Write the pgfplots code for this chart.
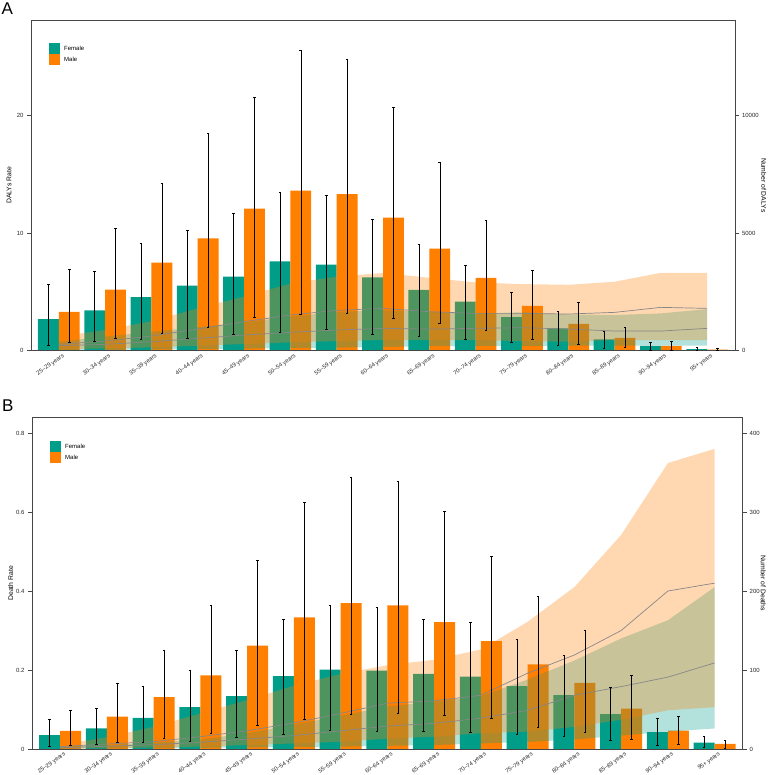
\documentclass[border=0pt]{standalone}
\usepackage{fontspec}
\setmainfont{Liberation Sans}
\usepackage{pgfplots}
\pgfplotsset{compat=1.18}
\usepackage{pgfplotstable}

\definecolor{femc}{RGB}{0,158,137}
\definecolor{malc}{RGB}{255,127,0}
\definecolor{midline}{RGB}{135,135,135}
\definecolor{axisc}{RGB}{70,70,70}

% Panel A: DALYs rate per age group (value, lower, upper)
\pgfplotstableread{
i f flo fhi m mlo mhi
0 2.69 0.48 5.64 3.29 0.68 6.92
1 3.43 0.80 6.77 5.18 1.10 10.37
2 4.56 0.99 9.12 7.48 1.45 14.27
3 5.52 1.10 10.20 9.55 2.00 18.47
4 6.29 1.36 11.70 12.07 2.84 21.58
5 7.60 1.59 13.48 13.60 3.09 25.50
6 7.31 1.82 13.20 13.30 3.18 24.80
7 6.23 1.44 11.16 11.30 2.80 20.70
8 5.16 1.22 9.04 8.67 2.33 16.00
9 4.16 0.97 7.28 6.18 1.73 11.08
10 2.86 0.68 4.96 3.80 0.94 6.88
11 1.90 0.46 3.35 2.27 0.51 4.11
12 0.97 0.20 1.67 1.08 0.26 1.99
13 0.40 0.08 0.68 0.40 0.08 0.77
14 0.14 0.03 0.26 0.09 0.02 0.17
}\rateA

% Panel A: number of DALYs, estimates
\pgfplotstableread{
i fmid mmid
0 212 269
1 269 410
2 382 623
3 524 920
4 665 1232
5 779 1515
6 878 1713
7 949 1798
8 920 1657
9 949 1586
10 977 1586
11 920 1558
12 835 1628
13 835 1841
14 949 1798
}\lineA

% Panel A: uncertainty bands as outlines (lower edge forward, upper edge back)
\pgfplotstableread{
x y
0 20
1 35
2 50
3 70
4 90
5 110
6 130
7 160
8 190
9 200
10 210
11 210
12 220
13 220
14 215
14 1770
13 1586
12 1515
11 1545
10 1630
9 1586
8 1650
7 1720
6 1650
5 1450
4 1200
3 1000
2 800
1 600
0 380
}\bandAf

\pgfplotstableread{
x y
0 57
1 99
2 142
3 212
4 283
5 354
6 410
7 453
8 453
9 453
10 410
11 382
12 453
13 453
14 453
14 3310
13 3310
12 2930
11 2800
10 2830
9 2900
8 3100
7 3300
6 3150
5 2850
4 2300
3 1800
2 1250
1 880
0 600
}\bandAm

% Panel B: death rate per age group (value, lower, upper)
\pgfplotstableread{
i f flo fhi m mlo mhi
0 0.0354 0.0068 0.0760 0.0456 0.0093 0.0979
1 0.0523 0.0127 0.1038 0.0819 0.0169 0.1654
2 0.0785 0.0169 0.1595 0.1316 0.0270 0.2498
3 0.1063 0.0203 0.1983 0.1865 0.0397 0.3646
4 0.1340 0.0295 0.2490 0.2616 0.0608 0.4767
5 0.1848 0.0380 0.3290 0.3334 0.0760 0.6253
6 0.2008 0.0481 0.3646 0.3696 0.0886 0.6886
7 0.1983 0.0456 0.3600 0.3637 0.0903 0.6790
8 0.1899 0.0439 0.3283 0.3215 0.0852 0.6010
9 0.1831 0.0422 0.3198 0.2734 0.0776 0.4890
10 0.1595 0.0380 0.2776 0.2143 0.0549 0.3865
11 0.1367 0.0329 0.2363 0.1671 0.0413 0.3004
12 0.0886 0.0211 0.1561 0.1021 0.0245 0.1873
13 0.0430 0.0101 0.0776 0.0464 0.0118 0.0835
14 0.0160 0.0034 0.0312 0.0127 0.0017 0.0211
}\rateB

% Panel B: number of deaths, estimates
\pgfplotstableread{
i fmid mmid
0 1.5 3
1 3.5 6.3
2 5.5 9.3
3 8.5 15.6
4 12.5 23
5 17 33
6 23 45
7 29 58
8 32.5 61
9 39 68
10 49 96
11 68 119
12 79 150
13 91 200
14 109 210
}\lineB

% Panel B: uncertainty bands as outlines
\pgfplotstableread{
x y
0 0.3
1 0.6
2 1
3 1.5
4 2
5 2.5
6 3
7 4
8 5
9 7
10 9
11 12
12 17
13 22
14 26
14 205
13 163
12 140
11 112
10 88
9 67
8 60
7 54
6 42
5 31
4 20
3 12
2 8
1 5
0 3
}\bandBf

\pgfplotstableread{
x y
0 0.4
1 1
2 2
3 3
4 5
5 7
6 9.3
7 13
8 15.6
9 20
10 22
11 28
12 37
13 49
14 53
14 380
13 362
12 271
11 205
10 161
9 126
8 113
7 106
6 95
5 80
4 62
3 45
2 28
1 15
0 5
}\bandBm

\pgfplotsset{
  panel/.style={
    scale only axis, xmin=-0.6, xmax=14.6, ymin=0,
    axis line style={axisc, line width=0.8pt},
    major tick style={axisc, line width=0.6pt},
    major tick length=4pt, tick align=outside,
    tick label style={font=\fontsize{6}{7}\selectfont, text=black!85},
    /pgf/number format/assume math mode=true,
    /pgf/number format/1000 sep={},
    /pgf/number format/fixed,
    scaled ticks=false,
  },
  barsaxis/.style={
    panel,
    xtick={0,...,14}, xtick pos=bottom,
    x tick style={draw=none},
    xticklabels={25--29 years,30--34 years,35--39 years,40--44 years,45--49 years,50--54 years,55--59 years,60--64 years,65--69 years,70--74 years,75--79 years,80--84 years,85--89 years,90--94 years,95+ years},
    x tick label style={rotate=35, anchor=north east, inner sep=0pt, xshift=3.5pt, yshift=-0.8pt, font=\fontsize{5.8}{7}\selectfont},
    ytick pos=left,
    legend cell align=left,
    legend style={draw=none, fill=none, inner sep=0pt, row sep=0pt,
      nodes={inner sep=0pt, font=\fontsize{6}{7}\selectfont},
      /tikz/every odd column/.style={column sep=4pt}},
  },
  numaxis/.style={
    panel, axis x line*=bottom, xtick=\empty, axis y line*=right,
    yticklabel style={xshift=-0.5pt},
  },
  erraxis/.style={panel, hide axis},
  sqleg/.style={legend image code/.code={\fill[##1] (0pt,-5.5pt) rectangle (11pt,5.5pt);}},
  errs/.style={draw=none, mark=none,
    error bars/y dir=both, error bars/y explicit,
    error bars/error bar style={black, line width=0.45pt},
    error bars/error mark options={black, rotate=90, mark size=1.3pt, line width=0.45pt}},
}

\begin{document}
\begin{tikzpicture}
\useasboundingbox (0pt,0pt) rectangle (767pt,-775pt);

\node[anchor=north west, inner sep=0pt, font=\fontsize{17}{17}\selectfont] at (1.5pt,-2.5pt) {A};
\node[anchor=north west, inner sep=0pt, font=\fontsize{17}{17}\selectfont] at (2pt,-399.5pt) {B};

% ---------- Panel A ----------
\begin{axis}[barsaxis, at={(31pt,-350.7pt)}, anchor=south west,
  width=704pt, height=330.7pt, ymax=28.1, ytick={0,10,20},
  every axis y label/.style={at={(axis description cs:-0.031,0.5)}, rotate=90, anchor=center, font=\fontsize{6.8}{8}\selectfont},
  ylabel={DALYs Rate},
  legend style={at={(0.0256,0.930)}, anchor=north west}]
\addplot[ybar, bar width=0.45, bar shift=-0.225, fill=femc, draw=none, sqleg] table[x=i,y=f]{\rateA};
\addplot[ybar, bar width=0.45, bar shift=0.225, fill=malc, draw=none, sqleg] table[x=i,y=m]{\rateA};
\legend{Female,Male}
\end{axis}

\begin{axis}[numaxis, at={(31pt,-350.7pt)}, anchor=south west,
  width=704pt, height=330.7pt, ymax=14050, ytick={0,5000,10000},
  every axis y label/.style={at={(axis description cs:1.041,0.5)}, rotate=-90, anchor=center, font=\fontsize{6.8}{8}\selectfont},
  ylabel={Number of DALYs}]
\addplot[fill=femc, fill opacity=0.3, draw=none] table[x=x,y=y]{\bandAf};
\addplot[fill=malc, fill opacity=0.3, draw=none] table[x=x,y=y]{\bandAm};
\addplot[midline, line width=0.7pt] table[x=i,y=fmid]{\lineA};
\addplot[midline, line width=0.7pt] table[x=i,y=mmid]{\lineA};
\end{axis}

% error bars sit at the centre of each bar (bar shift of 0.225)
\begin{axis}[erraxis, at={(31pt,-350.7pt)}, anchor=south west,
  width=704pt, height=330.7pt, ymax=28.1]
\addplot[errs] table[x expr=\thisrow{i}-0.225, y=f, y error plus expr=\thisrow{fhi}-\thisrow{f}, y error minus expr=\thisrow{f}-\thisrow{flo}]{\rateA};
\addplot[errs] table[x expr=\thisrow{i}+0.225, y=m, y error plus expr=\thisrow{mhi}-\thisrow{m}, y error minus expr=\thisrow{m}-\thisrow{mlo}]{\rateA};
\end{axis}

% ---------- Panel B ----------
\begin{axis}[barsaxis, at={(32pt,-749pt)}, anchor=south west,
  width=710.7pt, height=331.3pt, ymax=0.8387, ytick={0,0.2,0.4,0.6,0.8},
  every axis y label/.style={at={(axis description cs:-0.030,0.5)}, rotate=90, anchor=center, font=\fontsize{6.8}{8}\selectfont},
  ylabel={Death Rate},
  legend style={at={(0.0253,0.9297)}, anchor=north west}]
\addplot[ybar, bar width=0.45, bar shift=-0.225, fill=femc, draw=none, sqleg] table[x=i,y=f]{\rateB};
\addplot[ybar, bar width=0.45, bar shift=0.225, fill=malc, draw=none, sqleg] table[x=i,y=m]{\rateB};
\legend{Female,Male}
\end{axis}

\begin{axis}[numaxis, at={(32pt,-749pt)}, anchor=south west,
  width=710.7pt, height=331.3pt, ymax=419.4, ytick={0,100,200,300,400},
  every axis y label/.style={at={(axis description cs:1.029,0.5)}, rotate=-90, anchor=center, font=\fontsize{6.8}{8}\selectfont},
  ylabel={Number of Deaths}]
\addplot[fill=femc, fill opacity=0.3, draw=none] table[x=x,y=y]{\bandBf};
\addplot[fill=malc, fill opacity=0.3, draw=none] table[x=x,y=y]{\bandBm};
\addplot[midline, line width=0.7pt] table[x=i,y=fmid]{\lineB};
\addplot[midline, line width=0.7pt] table[x=i,y=mmid]{\lineB};
\end{axis}

\begin{axis}[erraxis, at={(32pt,-749pt)}, anchor=south west,
  width=710.7pt, height=331.3pt, ymax=0.8387]
\addplot[errs] table[x expr=\thisrow{i}-0.225, y=f, y error plus expr=\thisrow{fhi}-\thisrow{f}, y error minus expr=\thisrow{f}-\thisrow{flo}]{\rateB};
\addplot[errs] table[x expr=\thisrow{i}+0.225, y=m, y error plus expr=\thisrow{mhi}-\thisrow{m}, y error minus expr=\thisrow{m}-\thisrow{mlo}]{\rateB};
\end{axis}
\end{tikzpicture}
\end{document}
